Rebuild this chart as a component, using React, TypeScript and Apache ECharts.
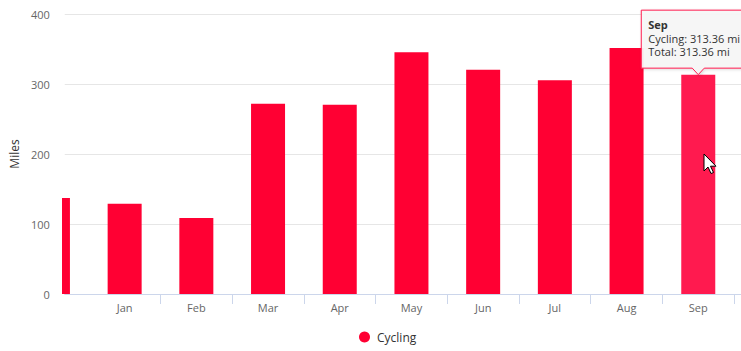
import React, { useEffect, useRef } from 'react';
import * as echarts from 'echarts';

// Data (index 0 = previous December, partly scrolled out of view)
const categories = ['Dec', 'Jan', 'Feb', 'Mar', 'Apr', 'May', 'Jun', 'Jul', 'Aug', 'Sep'];
const cyclingMiles = [137, 129, 108.6, 271.9, 270.5, 345.2, 320.5, 305.2, 351.4, 313.36];
const yTickValues = [0, 100, 200, 300, 400];
const seriesName = 'Cycling';
const axisTitle = 'Miles';
const unit = 'mi';
const hoveredIndex = 9;

// visible window of the category axis (in category units)
const X_MIN = 0.165;
const X_MAX = 9.596;

const FONT = '"Open Sans", "Noto Sans", Arial, sans-serif';
const RED = '#ff0033';
const RED_HOVER = '#ff1a4f';

export default function App() {
  const ref = useRef<HTMLDivElement>(null);

  useEffect(() => {
    if (!ref.current) return;
    const chart = echarts.init(ref.current, undefined, { renderer: 'svg' });

    const labelValues = categories.map((_, i) => i).filter((i) => i >= 1);
    const tickValues = categories.slice(1).map((_, i) => i + 1.5);

    const GRID_LEFT = 62;
    const GRID_TOP = 14;
    const GRID_BOTTOM = 57;

    const yMin = yTickValues[0];
    const yMax = yTickValues[yTickValues.length - 1];
    const yInterval = yTickValues[1] - yTickValues[0];

    chart.setOption({
      animation: false,
      textStyle: { fontFamily: FONT },
      grid: { left: GRID_LEFT, right: 0, top: GRID_TOP, bottom: GRID_BOTTOM, containLabel: false },
      legend: {
        data: [seriesName],
        icon: 'circle',
        itemWidth: 11,
        itemHeight: 11,
        left: 354,
        top: 326,
        textStyle: { color: '#333', fontSize: 12, fontFamily: FONT, padding: [0, 0, 0, 2] },
      },
      xAxis: {
        type: 'value',
        min: X_MIN,
        max: X_MAX,
        z: 10,
        axisLine: { show: true, lineStyle: { color: '#ccd6eb', width: 1 } },
        axisTick: {
          show: true,
          length: 10,
          lineStyle: { color: '#ccd6eb' },
          customValues: tickValues,
        },
        axisLabel: {
          customValues: labelValues,
          formatter: (v: number) => categories[Math.round(v)] ?? '',
          color: '#666',
          fontSize: 11,
          margin: 8,
          fontFamily: FONT,
        },
        splitLine: { show: false },
      },
      yAxis: [
        {
          // grid lines, beneath the bars
          type: 'value',
          min: yMin,
          max: yMax,
          interval: yInterval,
          z: 0,
          axisLine: { show: false },
          axisTick: { show: false },
          axisLabel: { show: false },
          splitLine: { lineStyle: { color: '#e6e6e6', width: 1 } },
        },
        {
          // labels and title, above the mask
          type: 'value',
          position: 'left',
          min: yMin,
          max: yMax,
          interval: yInterval,
          z: 10,
          name: axisTitle,
          nameLocation: 'middle',
          nameRotate: 90,
          nameGap: 44,
          nameTextStyle: { color: '#333', fontSize: 12, fontFamily: FONT },
          axisLine: { show: false },
          axisTick: { show: false },
          axisLabel: { color: '#666', fontSize: 11, margin: 15, fontFamily: FONT },
          splitLine: { show: false },
        },
      ],
      series: [
        {
          name: seriesName,
          type: 'bar',
          yAxisIndex: 0,
          clip: true,
          barWidth: 34,
          z: 2,
          itemStyle: { color: RED },
          emphasis: { disabled: true },
          data: cyclingMiles.map((v, i) =>
            i === hoveredIndex
              ? { value: [i, v], itemStyle: { color: RED_HOVER } }
              : { value: [i, v] }
          ),
        },
      ],
    });

    // Tooltip callout anchored at the hovered bar
    const [px, py] = chart.convertToPixel({ seriesIndex: 0 }, [hoveredIndex, cyclingMiles[hoveredIndex]]) as number[];
    const tipY = py;
    const boxBottom = tipY - 6.5;
    const boxTop = boxBottom - 58;
    const boxLeft = px - 57;
    const boxRight = px + 70;
    const v = cyclingMiles[hoveredIndex].toFixed(2);
    const tipText = (text: string, dy: number, bold = false) => ({
      type: 'text',
      z: 101,
      x: boxLeft + 7,
      y: boxTop + dy,
      style: {
        text,
        fill: '#333',
        fontSize: 11,
        lineHeight: 12,
        fontWeight: bold ? 'bold' : 'normal',
        fontFamily: FONT,
        verticalAlign: 'middle',
      },
    });

    chart.setOption({
      graphic: [
        // mask: part of the scrolled-out bar left of the plot area
        {
          type: 'rect',
          z: 5,
          silent: true,
          shape: { x: 0, y: 0, width: GRID_LEFT, height: 351 - GRID_BOTTOM },
          style: { fill: '#fff' },
        },
        {
          type: 'polygon',
          z: 100,
          shape: {
            points: [
              [boxLeft, boxTop],
              [boxRight, boxTop],
              [boxRight, boxBottom],
              [px + 6, boxBottom],
              [px, tipY],
              [px - 6, boxBottom],
              [boxLeft, boxBottom],
            ],
          },
          style: {
            fill: 'rgba(247,247,247,0.92)',
            stroke: RED_HOVER,
            lineWidth: 1,
            shadowBlur: 3,
            shadowColor: 'rgba(0,0,0,0.15)',
            shadowOffsetX: 1,
            shadowOffsetY: 1,
          },
        },
        tipText(categories[hoveredIndex], 14, true),
        tipText(`${seriesName}: ${v} ${unit}`, 28),
        tipText(`Total: ${v} ${unit}`, 41.5),
        {
          type: 'polygon',
          z: 102,
          x: 704,
          y: 154,
          shape: {
            points: [
              [0, 0],
              [0, 17],
              [4, 13],
              [7, 19.5],
              [9.5, 18.5],
              [6.5, 12.2],
              [12, 12.2],
            ],
          },
          style: { fill: '#fff', stroke: '#000', lineWidth: 1 },
        },
      ],
    });

    return () => chart.dispose();
  }, []);

  return (
    <div
      ref={ref}
      style={{ position: 'fixed', left: 0, top: 0, width: 741, height: 351, background: '#fff' }}
    />
  );
}
